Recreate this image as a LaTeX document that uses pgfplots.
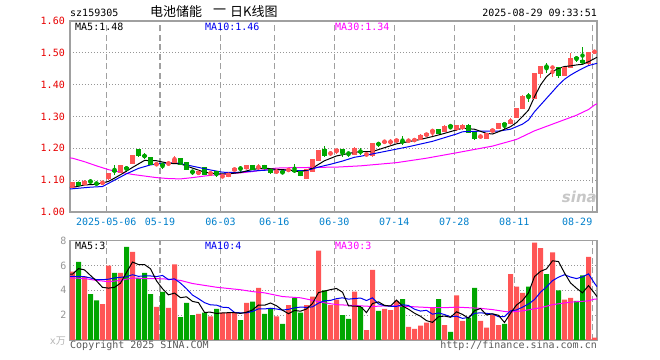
\documentclass[border=0pt]{standalone}
\usepackage{pgfplots}
\pgfplotsset{compat=1.18}
\usepackage{pgfplotstable}
\usepackage{fontspec}
\setmainfont{DejaVu Sans Mono}
\newfontfamily\cjk{Noto Sans CJK SC}
\newfontfamily\sinafont{DejaVu Sans}
\definecolor{kred}{RGB}{255,85,85}
\definecolor{kgreen}{RGB}{0,166,0}
\definecolor{tickred}{RGB}{232,0,0}
\definecolor{tickblue}{RGB}{0,128,204}
\definecolor{framegray}{RGB}{160,160,160}
\definecolor{gridgray}{RGB}{150,150,150}
\definecolor{labelgray}{RGB}{150,150,150}
\definecolor{copygray}{RGB}{90,90,90}
\definecolor{maviolet}{RGB}{255,0,255}
\definecolor{mablue}{RGB}{0,0,240}

% i open high low close volume(10k)
\pgfplotstableread{
i o h l c v
0 1.077 1.094 1.075 1.092 5.5
2 1.085 1.100 1.084 1.095 5.1
5 1.089 1.096 1.088 1.094 2.9
6 1.104 1.123 1.100 1.122 6.0
8 1.125 1.147 1.124 1.145 5.4
10 1.151 1.177 1.150 1.176 7.1
14 1.148 1.154 1.146 1.152 2.66
16 1.152 1.160 1.143 1.154 2.58
17 1.157 1.176 1.156 1.166 6.1
21 1.120 1.128 1.118 1.126 2.1
23 1.121 1.126 1.115 1.123 1.9
25 1.111 1.117 1.107 1.113 2.2
26 1.112 1.123 1.110 1.122 2.2
27 1.129 1.139 1.128 1.138 2.2
29 1.136 1.147 1.134 1.145 3.0
31 1.139 1.151 1.132 1.141 4.2
34 1.126 1.131 1.123 1.128 1.9
36 1.131 1.136 1.128 1.133 2.8
39 1.106 1.134 1.104 1.133 2.8
40 1.127 1.167 1.126 1.166 3.5
41 1.162 1.194 1.160 1.193 7.2
43 1.183 1.192 1.176 1.185 2.8
44 1.190 1.199 1.183 1.197 3.25
47 1.180 1.203 1.178 1.200 3.9
49 1.180 1.184 1.177 1.182 0.8
50 1.176 1.215 1.174 1.214 5.65
52 1.220 1.226 1.214 1.222 2.5
53 1.220 1.228 1.210 1.222 2.4
54 1.221 1.230 1.219 1.228 3.15
56 1.222 1.228 1.220 1.226 1.05
57 1.225 1.230 1.222 1.227 0.9
58 1.229 1.245 1.228 1.239 1.15
59 1.239 1.249 1.237 1.247 1.4
60 1.254 1.260 1.239 1.256 2.6
62 1.252 1.272 1.250 1.270 1.2
64 1.258 1.274 1.256 1.272 3.6
65 1.261 1.275 1.259 1.273 1.55
68 1.236 1.241 1.233 1.238 1.55
69 1.230 1.247 1.228 1.246 1.0
70 1.252 1.262 1.250 1.260 2.0
71 1.262 1.280 1.260 1.279 1.2
73 1.278 1.295 1.276 1.287 5.3
74 1.296 1.326 1.294 1.324 4.3
75 1.324 1.366 1.322 1.364 3.8
77 1.357 1.437 1.355 1.436 7.85
78 1.436 1.460 1.420 1.457 7.4
80 1.453 1.456 1.425 1.455 7.05
82 1.428 1.456 1.426 1.454 3.25
83 1.454 1.499 1.452 1.483 3.4
86 1.467 1.504 1.460 1.502 6.7
87 1.502 1.507 1.500 1.504 0.2
}\upcandles

\pgfplotstableread{
i o h l c v
1 1.092 1.095 1.082 1.084 6.3
3 1.097 1.103 1.088 1.095 3.7
4 1.090 1.093 1.086 1.088 3.2
7 1.131 1.148 1.117 1.128 5.4
9 1.139 1.145 1.127 1.136 7.5
11 1.195 1.196 1.172 1.176 5.0
12 1.178 1.185 1.166 1.175 5.4
13 1.172 1.174 1.148 1.150 3.7
15 1.149 1.153 1.135 1.147 3.87
18 1.169 1.170 1.147 1.149 1.85
19 1.155 1.156 1.133 1.135 3.0
20 1.128 1.132 1.117 1.126 2.0
22 1.140 1.141 1.115 1.117 2.2
24 1.127 1.128 1.110 1.117 2.5
28 1.138 1.145 1.127 1.136 1.6
30 1.145 1.146 1.133 1.135 3.1
32 1.145 1.147 1.135 1.137 2.1
33 1.135 1.137 1.120 1.124 2.5
35 1.126 1.128 1.121 1.124 1.3
37 1.131 1.150 1.122 1.129 3.4
38 1.127 1.128 1.112 1.114 2.2
42 1.195 1.208 1.173 1.177 4.0
45 1.195 1.196 1.174 1.187 2.0
46 1.185 1.190 1.174 1.183 1.7
48 1.191 1.200 1.179 1.189 2.65
51 1.215 1.221 1.205 1.213 2.35
55 1.222 1.239 1.210 1.220 3.3
61 1.258 1.259 1.245 1.247 3.3
63 1.271 1.272 1.260 1.269 0.65
66 1.273 1.275 1.249 1.251 1.8
67 1.249 1.251 1.225 1.230 4.2
72 1.277 1.280 1.262 1.275 1.3
76 1.365 1.375 1.347 1.363 4.3
79 1.458 1.467 1.436 1.456 5.3
81 1.454 1.455 1.420 1.430 4.0
84 1.484 1.490 1.472 1.482 3.15
85 1.475 1.518 1.465 1.470 5.2
}\downcandles

\pgfplotstableread{
i y
-0.42 1.077
0 1.077
2 1.085
4 1.087
6 1.096
8 1.117
10 1.140
12 1.162
14 1.161
16 1.153
18 1.151
20 1.138
22 1.125
24 1.120
26 1.120
28 1.124
30 1.134
32 1.138
34 1.134
36 1.132
38 1.126
40 1.138
42 1.161
44 1.176
46 1.184
48 1.190
50 1.190
52 1.202
54 1.214
56 1.221
58 1.228
60 1.237
62 1.247
64 1.258
65 1.263
67 1.260
69 1.247
70 1.245
71 1.252
73 1.268
74 1.281
75 1.300
76 1.320
77 1.362
78 1.399
79 1.425
80 1.441
81 1.451
82 1.457
83 1.459
84 1.462
85 1.464
86 1.472
87 1.482
87.42 1.486
}\pmafive

\pgfplotstableread{
i y
-0.42 1.073
0 1.073
3 1.078
5 1.080
7 1.100
9 1.120
11 1.137
13 1.148
15 1.153
17 1.155
19 1.148
21 1.140
23 1.132
25 1.125
27 1.124
29 1.127
31 1.130
33 1.132
35 1.132
37 1.130
39 1.130
41 1.141
43 1.150
45 1.160
47 1.172
48 1.175
52 1.190
56 1.205
60 1.222
64 1.245
65 1.252
68 1.254
71 1.254
73 1.260
75 1.276
76 1.289
77 1.315
78 1.336
79 1.357
80 1.378
81 1.399
82 1.417
83 1.430
84 1.441
85 1.451
86 1.460
87 1.465
87.42 1.467
}\pmaten

\pgfplotstableread{
i y
-0.42 1.170
0 1.169
2 1.158
4 1.145
6 1.133
8 1.125
10 1.118
12 1.113
14 1.108
16 1.105
18 1.104
20 1.108
22 1.113
24 1.117
26 1.120
28 1.123
30 1.127
32 1.133
34 1.138
36 1.139
40 1.140
44 1.141
48 1.145
54 1.155
59 1.169
64 1.186
70 1.207
74 1.228
77 1.255
81 1.283
84 1.304
86 1.322
87 1.336
87.42 1.340
}\pmathirty

\pgfplotstableread{
i m5 m10
-0.42 5.3 5.13
0 5.3 5.13
1 5.75 5.1
2 5.65 5.1
3 5.2 5.0
4 4.76 4.86
5 4.24 4.86
6 4.18 4.9
7 4.24 5.0
8 4.58 5.05
9 5.44 5.1
10 6.28 5.26
11 6.08 5.13
12 6.08 5.16
13 5.74 5.16
14 4.77 5.11
15 4.13 5.2
16 3.64 4.86
17 3.78 4.93
18 3.41 4.58
19 3.48 4.13
20 3.11 3.62
21 3.01 3.33
22 2.23 3.01
23 2.24 2.83
24 2.14 2.81
25 2.18 2.64
26 2.2 2.61
27 2.2 2.22
28 2.14 2.19
29 2.24 2.19
30 2.42 2.3
31 2.82 2.51
32 2.8 2.5
33 2.98 2.56
34 2.76 2.5
35 2.4 2.41
36 2.12 2.47
37 2.38 2.59
38 2.32 2.65
39 2.5 2.63
40 2.94 2.67
41 3.82 2.97
42 3.94 3.16
43 4.06 3.19
44 4.15 3.33
45 3.85 3.4
46 2.75 3.29
47 2.73 3.34
48 2.7 3.38
49 2.21 3.18
50 2.94 3.4
51 3.07 2.91
52 2.79 2.76
53 2.74 2.72
54 3.21 2.71
55 2.74 2.84
56 2.48 2.78
57 2.16 2.48
58 1.91 2.33
59 1.56 2.39
60 1.42 2.08
61 1.87 2.18
62 1.93 2.05
63 1.83 1.87
64 2.27 1.92
65 2.06 1.74
66 1.76 1.82
67 2.36 2.15
68 2.54 2.19
69 2.02 2.15
70 2.11 2.09
71 1.99 1.88
72 1.41 1.89
73 2.16 2.35
74 2.82 2.42
75 3.18 2.65
76 3.8 2.9
77 5.11 3.26
78 5.53 3.85
79 5.73 4.28
80 6.38 4.78
81 6.32 5.06
82 5.4 5.26
83 4.6 5.07
84 4.17 4.95
85 3.8 5.09
86 4.38 5.33
87 3.77 4.57
87.42 3.5 4.3
}\vma

\pgfplotstableread{
i y
-0.42 5.0
0 5.0
2 4.95
4 4.8
6 4.7
8 4.8
10 5.0
12 4.95
14 4.95
16 4.9
18 4.8
20 4.55
22 4.4
24 4.25
26 4.15
28 4.05
30 3.9
32 3.8
35 3.5
38 3.4
40 3.2
42 3.0
44 2.85
46 2.8
48 2.75
50 2.7
52 2.75
54 2.75
56 2.7
58 2.65
60 2.6
62 2.6
64 2.65
66 2.6
68 2.55
70 2.45
72 2.3
73 2.25
75 2.35
78 2.6
80 2.85
83 3.05
86 3.15
87 3.3
87.42 3.3
}\vmathirty

\pgfplotsset{
  kbase/.style={
    scale only axis,
    xmin=-0.4167, xmax=87.4167,
    axis line style={framegray, line width=1.3bp},
    major tick length=0pt,
    tick style={draw=none},
    xmajorgrids, ymajorgrids,
    major x grid style={framegray, line width=1.1bp, dash pattern=on 6bp off 3.5bp},
    major y grid style={gridgray, line width=0.9bp, dash pattern=on 1bp off 2bp},
    xtick={5.63,14.58,24.67,33.63,43.63,53.63,63.63,73.63,86.63},
    /pgf/number format/assume math mode=true,
    tick label style={font=\fontsize{10bp}{12bp}\selectfont},
    clip=true,
  },
  wick/.style={only marks, mark=none, forget plot,
    error bars/.cd, y dir=both, y explicit, error mark=none,
    error bar style={line width=1bp, solid, draw=#1}},
  body/.style={only marks, mark=none, forget plot,
    error bars/.cd, y dir=both, y explicit, error mark=none,
    error bar style={line width=5bp, solid, draw=#1}},
  flat/.style={only marks, mark=-, mark size=2.5bp, forget plot,
    mark options={line width=1bp, draw=#1, solid}},
}

\begin{document}
\begin{tikzpicture}[font=\fontsize{10bp}{12bp}\selectfont]
\fill[white] (0bp,0bp) rectangle (660bp,360bp);
\path[use as bounding box] (0bp,0bp) rectangle (660bp,360bp);

% ---------- price panel ----------
\begin{axis}[kbase, at={(70bp,148bp)}, anchor=south west,
  width=527bp, height=191bp,
  ymin=1, ymax=1.6,
  ytick={1.0,1.1,1.2,1.3,1.4,1.5,1.6},
  yticklabels={1.00,1.10,1.20,1.30,1.40,1.50,1.60},
  yticklabel style={text=tickred, anchor=east, inner sep=0pt, xshift=-5bp},
  xticklabels={2025-05-06,05-19,06-03,06-16,06-30,07-14,07-28,08-11,\makebox[0pt][r]{08-29}},
  xticklabel style={text=tickblue, anchor=center, inner sep=0pt, yshift=-9.5bp},
]
% up candles (red)
\addplot[kred, wick=kred] table[x=i, y expr={(\thisrow{h}+\thisrow{l})/2}, y error expr={(\thisrow{h}-\thisrow{l})/2}] {\upcandles};
\addplot[kred, body=kred] table[x=i, y expr={(\thisrow{o}+\thisrow{c})/2}, y error expr={abs(\thisrow{c}-\thisrow{o})/2}] {\upcandles};
\addplot[kred, flat=kred] table[x=i, y=c] {\upcandles};
\addplot[kred, flat=kred] table[x=i, y=o] {\upcandles};
% down candles (green)
\addplot[kgreen, wick=kgreen] table[x=i, y expr={(\thisrow{h}+\thisrow{l})/2}, y error expr={(\thisrow{h}-\thisrow{l})/2}] {\downcandles};
\addplot[kgreen, body=kgreen] table[x=i, y expr={(\thisrow{o}+\thisrow{c})/2}, y error expr={abs(\thisrow{c}-\thisrow{o})/2}] {\downcandles};
\addplot[kgreen, flat=kgreen] table[x=i, y=c] {\downcandles};
\addplot[kgreen, flat=kgreen] table[x=i, y=o] {\downcandles};
% moving averages
\addplot[maviolet, line width=1bp, mark=none] table[x=i, y=y] {\pmathirty};
\addplot[mablue, line width=1bp, mark=none] table[x=i, y=y] {\pmaten};
\addplot[black, line width=1bp, mark=none] table[x=i, y=y] {\pmafive};
\end{axis}

% ---------- volume panel ----------
\begin{axis}[kbase, at={(70bp,20bp)}, anchor=south west,
  width=527bp, height=99.3bp,
  ymin=0, ymax=8,
  ytick={2,4,6,8}, yticklabels={2,4,6,8},
  yticklabel style={text=labelgray, anchor=east, inner sep=0pt, xshift=-3.5bp},
  xticklabels={},
]
\addplot[ybar, bar width=5bp, bar shift=0pt, fill=kred, draw=none] table[x=i, y=v] {\upcandles};
\addplot[ybar, bar width=5bp, bar shift=0pt, fill=kgreen, draw=none] table[x=i, y=v] {\downcandles};
\addplot[maviolet, line width=1bp, mark=none] table[x=i, y=y] {\vmathirty};
\addplot[mablue, line width=1bp, mark=none] table[x=i, y=m10] {\vma};
\addplot[black, line width=1bp, mark=none] table[x=i, y=m5] {\vma};
\end{axis}

% ---------- texts ----------
\node[anchor=west, inner sep=0] at (70bp,347bp) {sz159305};
\node[anchor=west, inner sep=0, font=\cjk\fontsize{13bp}{15bp}\selectfont] at (150bp,348bp) {电池储能};
\node[anchor=west, inner sep=0, font=\cjk\fontsize{13bp}{15bp}\selectfont] at (213bp,348bp) {一};
\node[anchor=west, inner sep=0, font=\cjk\fontsize{13bp}{15bp}\selectfont] at (230bp,348bp) {日K线图};
\node[anchor=east, inner sep=0] at (597bp,347bp) {2025-08-29 09:33:51};

\node[anchor=west, inner sep=0, text=black] at (75bp,333.5bp) {MA5:1.48};
\node[anchor=west, inner sep=0, text=mablue] at (205bp,333.5bp) {MA10:1.46};
\node[anchor=west, inner sep=0, text=maviolet] at (335bp,333.5bp) {MA30:1.34};

\node[anchor=west, inner sep=0, text=black] at (75bp,114bp) {MA5:3};
\node[anchor=west, inner sep=0, text=mablue] at (205bp,114bp) {MA10:4};
\node[anchor=west, inner sep=0, text=maviolet] at (335bp,114bp) {MA30:3};

\node[anchor=east, inner sep=0, text=labelgray!70] at (66bp,18.5bp) {x{\cjk 万}};
\node[anchor=west, inner sep=0, text=copygray] at (70bp,14.3bp) {Copyright 2025 SINA.COM};
\node[anchor=east, inner sep=0, text=copygray] at (597bp,14.3bp) {http://finance.sina.com.cn};

\node[anchor=east, inner sep=0, text=black!22, font=\sinafont\bfseries\itshape\fontsize{15bp}{17bp}\selectfont] at (597bp,163bp) {sina};
\end{tikzpicture}
\end{document}
